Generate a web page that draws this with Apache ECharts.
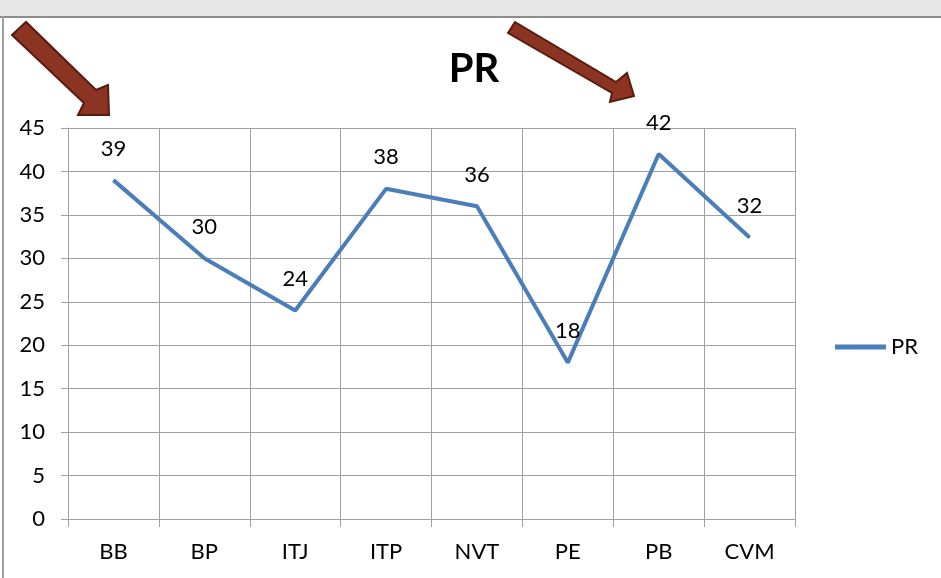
<!DOCTYPE html>
<html><head><meta charset="utf-8">
<script src="https://cdn.jsdelivr.net/npm/echarts@6/dist/echarts.min.js"></script>
<style>html,body{margin:0;padding:0;background:#fff}#c{width:941px;height:578px}</style>
</head><body><div id="c"></div>
<script>
var categories = ['BB','BP','ITJ','ITP','NVT','PE','PB','CVM'];
var prValues = [39, 30, 24, 38, 36, 18, 42, 32.4];
var seriesName = 'PR';
var yMin = 0, yMax = 45, yStep = 5;

var F = 'Lato, "Open Sans", sans-serif';
var chart = echarts.init(document.getElementById('c'), null, {renderer:'canvas'});
chart.setOption({
  backgroundColor: '#ffffff',
  animation: false,
  title: { text: 'PR', left: 469, top: 44, textAlign: 'center',
    textStyle: { fontFamily: F, fontSize: 40, fontWeight: 'bold', color: '#000' } },
  legend: { data: [seriesName], left: 830, top: 331, icon: 'rect', itemWidth: 51, itemHeight: 5, itemGap: 6,
    textStyle: { fontFamily: F, fontSize: 22, color: '#000', padding: [0,0,0,0] } },
  grid: { left: 68, right: 146, top: 128, bottom: 59 },
  xAxis: { type: 'category', data: categories, boundaryGap: true,
    axisLine: { show: true, lineStyle: { color: '#a0a0a0', width: 1 } },
    axisTick: { show: true, length: 8, lineStyle: { color: '#a0a0a0' } },
    splitLine: { show: true, lineStyle: { color: '#a0a0a0', width: 1 } },
    axisLabel: { margin: 22, fontFamily: F, fontSize: 22, color: '#000' } },
  yAxis: { type: 'value', min: yMin, max: yMax, interval: yStep,
    axisLine: { show: true, lineStyle: { color: '#a0a0a0', width: 1 } },
    axisTick: { show: true, length: 7, lineStyle: { color: '#a0a0a0' } },
    splitLine: { show: true, lineStyle: { color: '#a0a0a0', width: 1 } },
    axisLabel: { margin: 23, fontFamily: F, fontSize: 22, color: '#000' } },
  series: [{
    name: seriesName, type: 'line', data: prValues,
    symbol: 'circle', symbolSize: 1, showSymbol: true,
    lineStyle: { color: '#4a7ebb', width: 4 },
    itemStyle: { color: '#4a7ebb' },
    label: { show: true, position: 'top', distance: 20, fontFamily: F, fontSize: 22, color: '#000',
      formatter: function(p){ return Math.round(p.value); } }
  }],
  graphic: [
    { type: 'rect', shape: { x: 0, y: 0, width: 941, height: 16 }, style: { fill: '#e7e7e7' }, z: 100 },
    { type: 'rect', shape: { x: 0, y: 16, width: 941, height: 2 }, style: { fill: '#8c8c8c' }, z: 100 },
    { type: 'rect', shape: { x: 2, y: 16, width: 2, height: 562 }, style: { fill: '#a0a0a0' }, z: 100 },
    { type: 'polygon', z: 100, shape: { points: [[12,35],[26,22],[96,90],[108,85],[109,115],[78,115],[84,103]] },
      style: { fill: '#8b3422', stroke: '#5a1a0e', lineWidth: 2 } },
    { type: 'polygon', z: 100, shape: { points: [[508,33],[515,22],[616,82],[627,73],[634,96],[610,102],[612,93]] },
      style: { fill: '#8b3422', stroke: '#5a1a0e', lineWidth: 2 } }
  ]
});
</script></body></html>
